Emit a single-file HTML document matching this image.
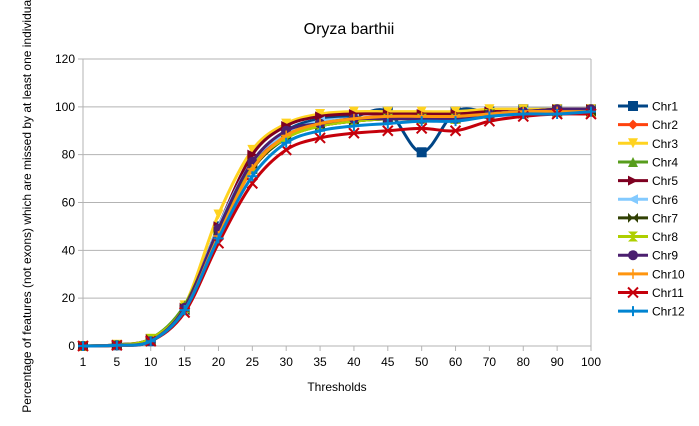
<!DOCTYPE html>
<html><head><meta charset="utf-8"><style>
body{margin:0;background:#fff;font-family:"Liberation Sans",sans-serif}
svg text{font-family:"Liberation Sans",sans-serif}
</style></head><body>
<svg id="c" width="699" height="421" xmlns="http://www.w3.org/2000/svg">
<rect width="699" height="421" fill="#fff"/>
<text x="349" y="34" font-size="16" text-anchor="middle" fill="#000">Oryza barthii</text>
<text x="337" y="391" font-size="12" text-anchor="middle" fill="#000">Thresholds</text>
<text transform="translate(31,205) rotate(-90)" font-size="12" text-anchor="middle" fill="#000">Percentage of features (not exons) which are missed by at least one individual</text>
<g id="grid"></g><g id="series"></g><g id="legend"></g>
</svg>
<script>
const categories=["1","5","10","15","20","25","30","35","40","45","50","60","70","80","90","100"];
const yTicks=[0,20,40,60,80,100,120];
const names=["Chr1","Chr2","Chr3","Chr4","Chr5","Chr6","Chr7","Chr8","Chr9","Chr10","Chr11","Chr12"];
const chr1=[0,0.3,2,15,50,77,90,95,96,98,81,98,98,99,99,99];
const chr2=[0,0.3,2,15,47,75,88,93,95,96,96,96,97,98,99,99];
const chr3=[0,0.5,3,17,55,82,93,97,98,98,98,98,99,99,99,99];
const chr4=[0,0.5,3,17,48,74,87,92,94,95,95,95,97,98,98,98];
const chr5=[0,0.5,3,16,50,80,92,96,97,97,97,97,98,98,99,99];
const chr6=[0,0.3,2,15,50,77,89,94,95,95,95,95,97,98,98,98];
const chr7=[0,0.3,2,15,47,74,87,92,94,95,95,95,97,97,98,98];
const chr8=[0,0.4,3,16,48,75,87,92,94,95,95,95,97,98,98,98];
const chr9=[0,0.3,2,16,49,77,90,93,95,95,95,95,97,98,99,99];
const chr10=[0,0.3,2,15,46,74,88,93,95,96,96,96,97,98,98,98];
const chr11=[0,0.3,2,14,43,68,82,87,89,90,91,90,94,96,97,97];
const chr12=[0,0.3,2,15,45,71,85,90,92,93,94,94,96,97,97,98];
const values=[chr1,chr2,chr3,chr4,chr5,chr6,chr7,chr8,chr9,chr10,chr11,chr12];
const colors=["#004586","#ff420e","#ffd320","#579d1c","#7e0021","#83caff","#314004","#aecf00","#4b1f6f","#ff950e","#c5000b","#0084d1"];
const markers=["square","diamond","tridown","triup","triright","trileft","bowtie","hourglass","circle","vplus","x","plus"];
const L=83,R=591,T=59,B=346,NS="http://www.w3.org/2000/svg";
const xs=i=>L+i*(R-L)/(categories.length-1);
const ys=v=>B-v*(B-T)/120;
function mk(t,a,p){const e=document.createElementNS(NS,t);for(const k in a)e.setAttribute(k,a[k]);p.appendChild(e);return e;}
const grid=document.getElementById('grid');
yTicks.forEach(v=>{
 const l=mk('line',{x1:L-5,x2:R,y1:ys(v),y2:ys(v),stroke:'#b3b3b3','stroke-width':1},grid);
 
 
 const t=mk('text',{x:L-8,y:ys(v)+4,'font-size':12,'text-anchor':'end',fill:'#000'},grid);t.textContent=v;
 
 
});
mk('line',{x1:R,x2:R,y1:T,y2:B,stroke:'#b3b3b3'},grid);
mk('line',{x1:L,x2:L,y1:T,y2:B+5,stroke:'#b3b3b3'},grid);
categories.forEach((c,i)=>{
 mk('line',{x1:xs(i),x2:xs(i),y1:B,y2:B+5,stroke:'#b3b3b3'},grid);
 const t=mk('text',{x:xs(i),y:B+20,'font-size':12,'text-anchor':'middle',fill:'#000'},grid);t.textContent=c;
 
 
});
function marker(type,x,y,col,g,s){
 s=s||5;let d;
 switch(type){
 case 'square':return mk('rect',{x:x-s,y:y-s,width:2*s,height:2*s,fill:col},g);
 case 'circle':return mk('circle',{cx:x,cy:y,r:s,fill:col},g);
 case 'diamond':d=`M${x},${y-s}L${x+s},${y}L${x},${y+s}L${x-s},${y}Z`;break;
 case 'tridown':d=`M${x-s},${y-s}L${x+s},${y-s}L${x},${y+s}Z`;break;
 case 'triup':d=`M${x-s},${y+s}L${x+s},${y+s}L${x},${y-s}Z`;break;
 case 'triright':d=`M${x-s},${y-s}L${x+s},${y}L${x-s},${y+s}Z`;break;
 case 'trileft':d=`M${x+s},${y-s}L${x-s},${y}L${x+s},${y+s}Z`;break;
 case 'bowtie':d=`M${x-s},${y-s}L${x+s},${y+s}L${x+s},${y-s}L${x-s},${y+s}Z`;break;
 case 'hourglass':d=`M${x-s},${y-s}L${x+s},${y-s}L${x-s},${y+s}L${x+s},${y+s}Z`;break;
 case 'x':return mk('path',{d:`M${x-s},${y-s}L${x+s},${y+s}M${x+s},${y-s}L${x-s},${y+s}`,stroke:col,'stroke-width':2},g);
 case 'plus':return mk('path',{d:`M${x-s},${y}L${x+s},${y}M${x},${y-s}L${x},${y+s}`,stroke:col,'stroke-width':2},g);
 case 'vplus':return mk('path',{d:`M${x-s},${y}L${x+s},${y}M${x},${y-s}L${x},${y+s}`,stroke:col,'stroke-width':1.5},g);
 }
 return mk('path',{d:d,fill:col},g);
}
function spline(pts){
 let d=`M${pts[0][0]},${pts[0][1]}`;
 for(let i=0;i<pts.length-1;i++){
  const p0=pts[i-1]||pts[i],p1=pts[i],p2=pts[i+1],p3=pts[i+2]||p2;
  d+=`C${p1[0]+(p2[0]-p0[0])/6},${p1[1]+(p2[1]-p0[1])/6} ${p2[0]-(p3[0]-p1[0])/6},${p2[1]-(p3[1]-p1[1])/6} ${p2[0]},${p2[1]}`;
 }
 return d;
}
const sg=document.getElementById('series');
values.forEach((vals,k)=>{
 const g=mk('g',{},sg);
 
 
 const pts=vals.map((v,i)=>[xs(i),ys(v)]);
 mk('path',{d:spline(pts),fill:'none',stroke:colors[k],'stroke-width':3},g);
 pts.forEach(p=>marker(markers[k],p[0],p[1],colors[k],g,5));
});
const lg=document.getElementById('legend');
names.forEach((n,k)=>{
 const y=106+k*18.65;
 const g=mk('g',{},lg);
 
 
 mk('line',{x1:618,x2:648,y1:y,y2:y,stroke:colors[k],'stroke-width':3},g);
 marker(markers[k],633,y,colors[k],g,5);
 const t=mk('text',{x:652,y:y+4.5,'font-size':12,fill:'#000'},g);t.textContent=n;
});
</script>
</body></html>
